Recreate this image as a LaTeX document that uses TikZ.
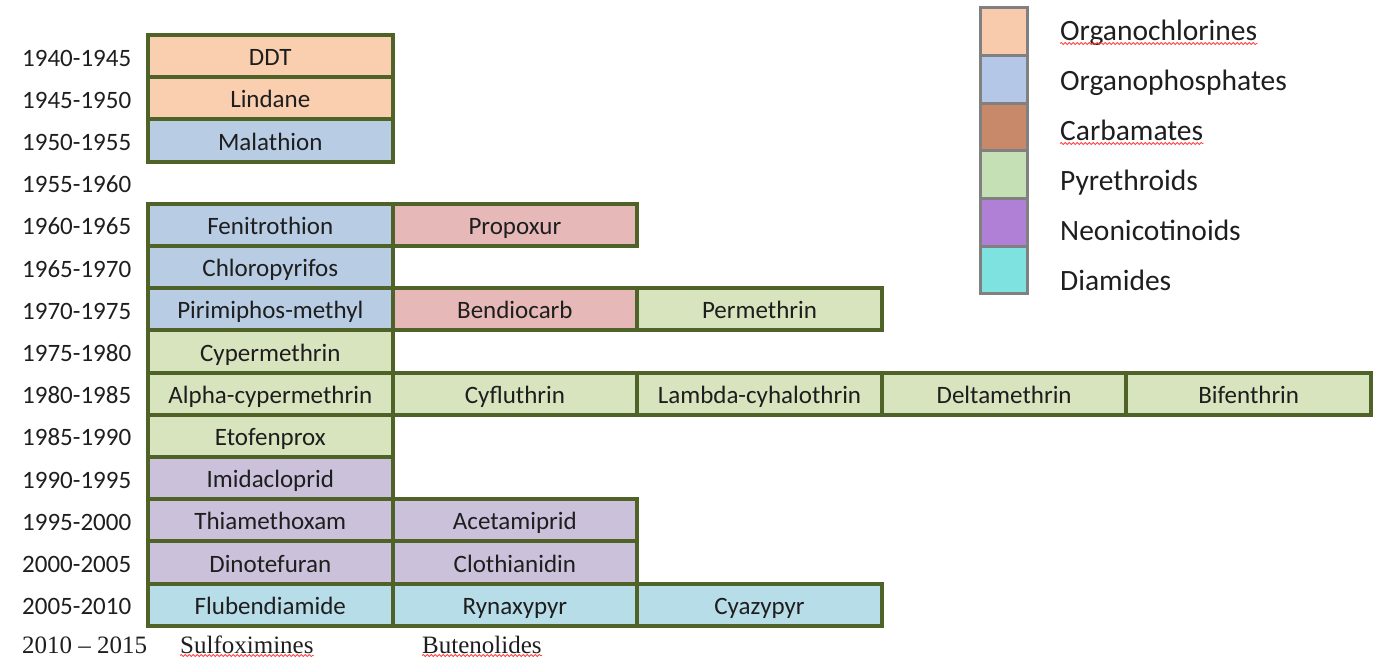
\documentclass[tikz,border=0pt]{standalone}
\usepackage{fontspec}
\setmainfont{Carlito}
\newfontfamily\timesfont{Liberation Serif}
\usetikzlibrary{decorations.pathmorphing}
\definecolor{ochl}{HTML}{F9CFAF}
\definecolor{ophos}{HTML}{B8CCE4}
\definecolor{carb}{HTML}{E6B9B8}
\definecolor{pyr}{HTML}{D7E4BD}
\definecolor{neo}{HTML}{CCC1DA}
\definecolor{dia}{HTML}{B7DDE8}
\definecolor{edge}{HTML}{4F6228}
\definecolor{lgochl}{HTML}{F8CBAD}
\definecolor{lgophos}{HTML}{B4C7E7}
\definecolor{lgcarb}{HTML}{C8896A}
\definecolor{lgpyr}{HTML}{C5E0B4}
\definecolor{lgneo}{HTML}{B07FD6}
\definecolor{lgdia}{HTML}{7DE2E0}
\definecolor{ink}{HTML}{1E1E1E}
\newcommand\inscell[5]{\node[cellbox,fill=#4] (#1) at ({148+244.6*(#2+0.5)},{35+42.2*(#3+0.5)}) {#5};}
\newcommand\insyear[3]{\node[yearlbl] (#1) at (22,{35+42.2*(#2+0.5)+10}) {#3};}
\newcommand\inslegend[4]{%
  \node[legsq,fill=#3] (#1sq) at (1004,{31.5+47.7*#2}) {};
  \node[leglbl] (#1) at (1060,{30+50*#2+10}) {#4};}
\begin{document}
\begin{tikzpicture}[x=1pt,y=-1pt,
  cellbox/.style={draw=edge, line width=4pt, minimum width=244.6pt, minimum height=42.2pt,
    inner sep=0pt, text height=19pt, text depth=0pt, font=\fontsize{25}{30}\selectfont, text=ink},
  yearlbl/.style={anchor=base west, inner sep=0pt, font=\fontsize{25}{30}\selectfont, text=ink},
  timeslbl/.style={anchor=base west, inner sep=0pt, font=\timesfont\fontsize{25}{30}\selectfont, text=ink},
  legsq/.style={draw=gray, line width=3pt, minimum width=47.7pt, minimum height=47.7pt, inner sep=0pt},
  leglbl/.style={anchor=base west, inner sep=0pt, font=\fontsize{29.5}{34}\selectfont, text=ink},
  squig/.style={draw=red!75, line width=0.8pt, decorate, decoration={snake, amplitude=1pt, segment length=4pt}}]
\useasboundingbox (0,0) rectangle (1381,657);
% year labels
\insyear{y0}{0}{1940-1945}
\insyear{y1}{1}{1945-1950}
\insyear{y2}{2}{1950-1955}
\insyear{y3}{3}{1955-1960}
\insyear{y4}{4}{1960-1965}
\insyear{y5}{5}{1965-1970}
\insyear{y6}{6}{1970-1975}
\insyear{y7}{7}{1975-1980}
\insyear{y8}{8}{1980-1985}
\insyear{y9}{9}{1985-1990}
\insyear{y10}{10}{1990-1995}
\insyear{y11}{11}{1995-2000}
\insyear{y12}{12}{2000-2005}
\insyear{y13}{13}{2005-2010}
\node[timeslbl] (y14) at (22,653) {2010 – 2015};
\node[timeslbl] (sulf) at (180,653) {Sulfoximines};
\node[timeslbl] (bute) at (422,653) {Butenolides};
\draw[squig] ([yshift=-2.5pt]sulf.base west) -- ([yshift=-2.5pt]sulf.base east);
\draw[squig] ([yshift=-2.5pt]bute.base west) -- ([yshift=-2.5pt]bute.base east);
% cells
\inscell{ddt}{0}{0}{ochl}{DDT}
\inscell{lind}{0}{1}{ochl}{Lindane}
\inscell{mala}{0}{2}{ophos}{Malathion}
\inscell{feni}{0}{4}{ophos}{Fenitrothion}
\inscell{prop}{1}{4}{carb}{Propoxur}
\inscell{chlo}{0}{5}{ophos}{Chloropyrifos}
\inscell{piri}{0}{6}{ophos}{Pirimiphos-methyl}
\inscell{bend}{1}{6}{carb}{Bendiocarb}
\inscell{perm}{2}{6}{pyr}{Permethrin}
\inscell{cype}{0}{7}{pyr}{Cypermethrin}
\inscell{alph}{0}{8}{pyr}{Alpha-cypermethrin}
\inscell{cyfl}{1}{8}{pyr}{Cyfluthrin}
\inscell{lamb}{2}{8}{pyr}{Lambda-cyhalothrin}
\inscell{delt}{3}{8}{pyr}{Deltamethrin}
\inscell{bife}{4}{8}{pyr}{Bifenthrin}
\inscell{etof}{0}{9}{pyr}{Etofenprox}
\inscell{imid}{0}{10}{neo}{Imidacloprid}
\inscell{thia}{0}{11}{neo}{Thiamethoxam}
\inscell{acet}{1}{11}{neo}{Acetamiprid}
\inscell{dino}{0}{12}{neo}{Dinotefuran}
\inscell{clot}{1}{12}{neo}{Clothianidin}
\inscell{flub}{0}{13}{dia}{Flubendiamide}
\inscell{ryna}{1}{13}{dia}{Rynaxypyr}
\inscell{cyaz}{2}{13}{dia}{Cyazypyr}
% legend
\inslegend{lg0}{0}{lgochl}{Organochlorines}
\inslegend{lg1}{1}{lgophos}{Organophosphates}
\inslegend{lg2}{2}{lgcarb}{Carbamates}
\inslegend{lg3}{3}{lgpyr}{Pyrethroids}
\inslegend{lg4}{4}{lgneo}{Neonicotinoids}
\inslegend{lg5}{5}{lgdia}{Diamides}
\draw[squig] ([yshift=-3.5pt]lg0.base west) -- ([yshift=-3.5pt]lg0.base east);
\draw[squig] ([yshift=-3.5pt]lg2.base west) -- ([yshift=-3.5pt]lg2.base east);
\end{tikzpicture}
\end{document}
